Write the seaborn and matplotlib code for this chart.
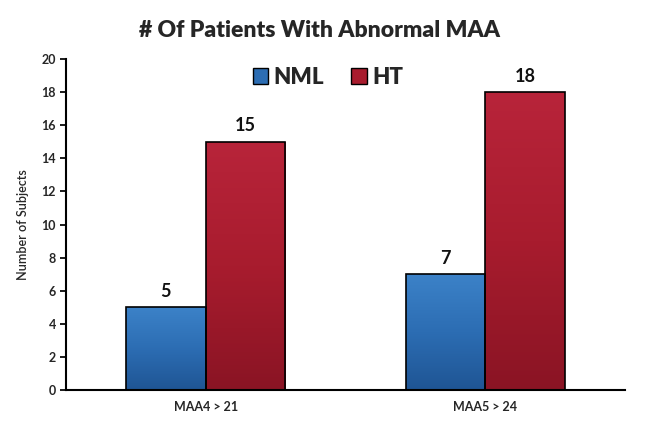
import numpy as np
import pandas as pd
import matplotlib
matplotlib.use("Agg")
import matplotlib.pyplot as plt
import seaborn as sns
from matplotlib.colors import LinearSegmentedColormap
from matplotlib.patches import Patch

categories = ["MAA4 > 21", "MAA5 > 24"]
nml_values = [5, 7]
ht_values = [15, 18]
series = ["NML", "HT"]
y_ticks = [0, 2, 4, 6, 8, 10, 12, 14, 16, 18, 20]

df = pd.DataFrame({
    "category": categories * 2,
    "group": ["NML"] * len(categories) + ["HT"] * len(categories),
    "value": nml_values + ht_values,
})

sns.set_theme(style="white")
plt.rcParams["font.family"] = ["Lato", "DejaVu Sans"]

fig = plt.figure(figsize=(6.52, 4.38), dpi=100)
ax = fig.add_axes([0.101, 0.1096, 0.858, 0.7554])

base_colors = {"NML": "#2c6db3", "HT": "#a81c2e"}
sns.barplot(data=df, x="category", y="value", hue="group", hue_order=series,
            palette=base_colors, width=0.57, edgecolor="black", linewidth=1.2,
            ax=ax, legend=False, saturation=1)

grads = {
    "NML": LinearSegmentedColormap.from_list("b", ["#1f5594", "#2c6db3", "#3c82c8"]),
    "HT": LinearSegmentedColormap.from_list("r", ["#8a1424", "#a81c2e", "#b8243a"]),
}
ax.set_ylim(0, 20)
ax.set_xlim(-0.5, 1.5)
ax.autoscale(False)
patches = list(ax.patches)
for i, p in enumerate(patches):
    grp = series[i // len(categories)]
    x0, y0 = p.get_x(), p.get_y()
    w, h = p.get_width(), p.get_height()
    grad = np.linspace(0, 1, 256).reshape(-1, 1)
    im = ax.imshow(grad, cmap=grads[grp], origin="lower", aspect="auto",
                   extent=[x0, x0 + w, y0, y0 + h], zorder=p.get_zorder() - 0.1)
    im.set_clip_path(p)
    p.set_facecolor("none")
    p.set_zorder(3)
    ax.text(x0 + w / 2, h + 0.45, f"{int(h)}", ha="center", va="bottom",
            fontsize=13, fontweight="bold", color="#111111")

ax.set_yticks(y_ticks)
ax.set_yticklabels([str(t) for t in y_ticks], fontsize=9, fontweight="bold")
ax.set_xticks(range(len(categories)))
ax.set_xticklabels(categories, fontsize=9, fontweight="bold")
ax.tick_params(axis="x", length=0, pad=8)
ax.set_xticks([0.5], minor=True)
ax.tick_params(axis="x", which="minor", length=4, direction="out", color="black")
ax.tick_params(axis="y", length=4, direction="out", color="black", left=True, pad=3)
ax.set_xlabel("")
ax.set_ylabel("Number of Subjects", fontsize=9, labelpad=9, fontweight="semibold")

for s in ["top", "right"]:
    ax.spines[s].set_visible(False)
for s in ["left", "bottom"]:
    ax.spines[s].set_color("black")
    ax.spines[s].set_linewidth(1.5)

handles = [Patch(facecolor=base_colors[g], edgecolor="black", label=g) for g in series]
leg = fig.legend(handles=handles, loc="center", bbox_to_anchor=(0.503, 0.824), ncol=2,
                 frameon=False, prop={"size": 16, "weight": "heavy"},
                 handlelength=0.7, handleheight=0.7, handletextpad=0.25, columnspacing=1.2)

fig.suptitle("# Of Patients With Abnormal MAA", x=0.49, y=0.955, fontsize=16.5, fontweight="heavy")

fig.savefig("out.png", dpi=100)
